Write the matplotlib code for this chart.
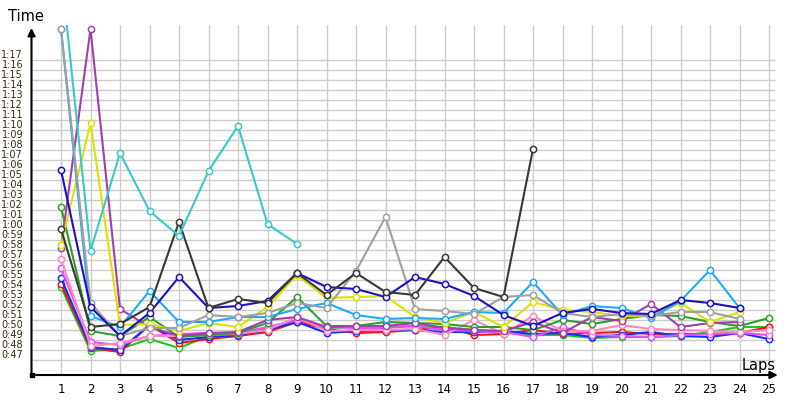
import matplotlib
matplotlib.use('Agg')
import matplotlib.pyplot as plt

laps = list(range(1, 26))

# lap times in seconds
cyan = [86.0, 57.9, 67.7, 61.9, 59.4, 65.9, 70.4, 60.6, 58.6]
gray = [80.1, 52.7, 49.4, 50.2, 50.2, 51.5, 51.3, 51.7, 52.7, 52.2, 55.9, 61.3,
        52.1, 51.9, 51.6, 53.3, 53.5, 51.7, 51.3, 51.6, 51.4, 51.8, 51.8, 51.1]
light_blue = [80.1, 51.4, 50.3, 53.9, 50.8, 50.8, 51.3, 51.3, 52.1, 52.7, 51.5, 51.1,
              51.2, 51.1, 51.8, 51.7, 54.8, 51.5, 52.4, 52.2, 51.2, 52.9, 56.0, 52.2]
purple = [58.2, 80.1, 52.1, 50.3, 49.4, 49.7, 49.8, 51.0, 51.3, 50.3, 50.4, 50.4,
          50.7, 50.2, 50.0, 49.9, 50.8, 49.7, 51.3, 50.9, 52.6, 50.3, 50.7, 50.8]
yellow = [58.5, 70.7, 50.5, 50.6, 49.9, 50.7, 50.3, 52.3, 55.5, 53.2, 53.3, 53.4,
          51.3, 50.7, 51.8, 50.3, 52.8, 52.0, 51.8, 51.4, 51.4, 52.7, 50.8, 51.8]
dark_blue = [66.0, 52.3, 49.4, 51.7, 55.3, 52.2, 52.4, 52.9, 55.7, 54.3, 54.1, 53.3,
             55.3, 54.6, 53.4, 51.5, 50.4, 51.7, 52.1, 51.7, 51.6, 53.0, 52.7, 52.2]
black = [60.1, 50.3, 50.6, 52.3, 60.8, 52.2, 53.1, 52.7, 55.7, 53.5, 55.7, 53.8,
         53.5, 57.3, 54.2, 53.3, 68.1]
dark_green = [62.3, 49.9, 49.4, 51.3, 49.3, 49.5, 49.7, 50.7, 53.3, 50.4, 50.4, 50.8,
              50.7, 50.6, 50.3, 50.3, 50.0, 51.0, 50.6, 51.1, 51.5, 51.4, 50.8, 50.4, 51.2]
green = [54.3, 47.9, 48.1, 49.1, 48.2, 49.4, 49.6, 50.2, 51.0, 50.2, 50.3, 50.3,
         50.4, 50.3, 50.0, 49.8, 49.5, 49.5, 49.2, 49.3, 49.3, 49.4, 49.8, 50.3, 50.3]
red = [54.6, 48.2, 47.8, 50.5, 48.7, 49.1, 49.4, 49.8, 50.8, 50.1, 49.7, 49.8,
       50.0, 50.3, 49.5, 49.6, 50.0, 49.6, 49.7, 49.8, 49.6, 49.6, 49.6, 49.7, 50.3]
blue = [55.2, 48.3, 48.0, 50.5, 49.0, 49.3, 49.5, 50.0, 50.8, 49.7, 49.9, 50.0,
        50.0, 49.8, 49.8, 49.9, 49.6, 49.7, 49.3, 49.5, 49.8, 49.4, 49.3, 49.7, 49.1]
pink = [57.1, 48.4, 48.7, 49.4, 49.4, 49.5, 49.6, 50.0, 51.3, 49.9, 50.0, 50.0,
        50.1, 49.5, 51.0, 49.6, 51.4, 49.9, 49.9, 50.5, 50.1, 50.0, 49.9, 49.8, 50.0]
violet = [56.2, 48.8, 48.5, 49.4, 49.6, 49.7, 49.7, 50.3, 51.0, 50.3, 50.2, 50.2,
          50.4, 50.0, 49.9, 49.8, 49.3, 50.3, 49.5, 49.4, 49.3, 49.5, 49.6, 49.7, 49.5]

series = [
    (green, '#18cc18'), (red, '#ff1010'), (blue, '#1030ff'), (violet, '#e050ff'),
    (pink, '#ff88c0'), (dark_green, '#2e9e2e'), (purple, '#a040a8'),
    (yellow, '#e0e000'), (light_blue, '#20a8ff'), (gray, '#a0a0a0'),
    (dark_blue, '#2010c0'), (black, '#383838'), (cyan, '#3cc8c8'),
]

y_ticks = list(range(47, 78))
y_labels = ['{}:{:02d}'.format(s // 60, s % 60) for s in y_ticks]

x_max = 25.3
y_min, y_max = 45.5, 80.5

fig = plt.figure(figsize=(8, 4), dpi=100)
ax = fig.add_axes([31.5 / 800, 25 / 400, x_max * 29.5 / 800, 350 / 400])
ax.set_xlim(0, x_max)
ax.set_ylim(y_min, y_max)
for s in ax.spines.values():
    s.set_visible(False)

# grid
ax.vlines(laps, y_min, y_max, color='#cccccc', lw=1, zorder=0)
ax.hlines(y_ticks, 0, 25.2, color='#cccccc', lw=1, zorder=0)

for vals, col in series:
    ax.plot(laps[:len(vals)], vals, color=col, lw=1.5, marker='o', ms=4.5,
            mfc='white', mec=col, mew=1.1, zorder=3)

ax.set_xticks(laps)
ax.set_xticklabels([str(l) for l in laps], fontsize=8.5)
ax.set_yticks(y_ticks)
ax.set_yticklabels(y_labels, fontsize=7, color='#3a2a10')
for lbl in ax.get_yticklabels():
    lbl.set_verticalalignment('bottom')
ax.tick_params(axis='x', length=0, pad=6)
ax.tick_params(axis='y', length=0, pad=6)

# axes with arrows
ax.annotate('', xy=(0, 80.2), xytext=(0, y_min), xycoords='data',
            arrowprops=dict(arrowstyle='-|>', color='black', lw=1.5,
                            shrinkA=0, shrinkB=0, mutation_scale=11),
            annotation_clip=False)
ax.annotate('', xy=(x_max, y_min), xytext=(0, y_min), xycoords='data',
            arrowprops=dict(arrowstyle='-|>', color='black', lw=1.5,
                            shrinkA=0, shrinkB=0, mutation_scale=11),
            annotation_clip=False)
ax.plot([0], [y_min], 's', color='black', ms=3, clip_on=False, zorder=5)

fig.text(8 / 800, 1 - 21 / 400, 'Time', fontsize=10.5, ha='left', va='baseline')
fig.text(742 / 800, 1 - 370 / 400, 'Laps', fontsize=10.5, ha='left', va='baseline')

fig.savefig('out.png', dpi=100)
